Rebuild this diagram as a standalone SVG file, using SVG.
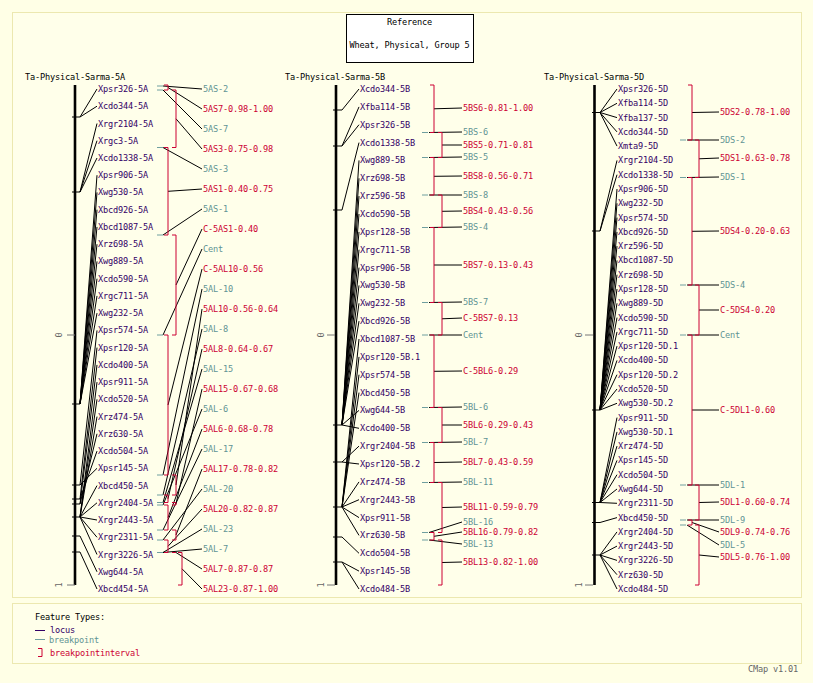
<svg xmlns="http://www.w3.org/2000/svg" width="813" height="683" viewBox="0 0 813 683">
<style>
text{font-family:"DejaVu Sans Mono","Liberation Mono",monospace;font-size:8.6px;letter-spacing:-0.18px}
.t{fill:#000}
.l{fill:#330066}
.b{fill:#5f9494}
.i{fill:#cc0033}
.s{fill:#666}
.c{stroke:#000;stroke-width:1;fill:none}
.k{stroke:#cc0033;stroke-width:1;fill:none}
.g{stroke:#6f9f9f;stroke-width:1}
.chr{stroke:#000;stroke-width:2.6}
.tk{stroke:#000;stroke-width:1}
.sc{stroke:#777;stroke-width:1}
</style>
<rect width="813" height="683" fill="#ffffe6"/>
<rect x="12.5" y="12.5" width="789" height="585" fill="#ffffea" stroke="#ece8b0"/>
<rect x="12.5" y="603.5" width="789" height="60" fill="#ffffea" stroke="#ece8b0"/>

<g id="title">
<rect x="346.5" y="14.5" width="127" height="48" fill="#fff" stroke="#000"/>
<text class="t" x="409.5" y="25" text-anchor="middle">Reference</text>
<text class="t" x="409.5" y="48" text-anchor="middle">Wheat, Physical, Group 5</text>
</g>

<g id="connectors">
<!-- 5A loci -->
<path class="c" d="M80 117L97 89M80 117L97 106.2M80 192L97 123.5M80 192L97 140.7M80 192L97 158M80 404L97 175.2M80 404L97 192.4M80 404L97 209.7M80 404L97 226.9M80 404L97 244.2M80 404L97 261.4M80 404L97 278.7M80 404L97 295.9M80 404L97 313.1M80 485L97 330.4M80 485L97 468.3M80 499L97 347.6M80 499L97 451.1M80 504L97 364.9M80 504L97 433.8M80 517L97 382.1M80 517L97 399.3M80 517L97 416.6M80 517L97 485.6M80 517L97 502.8M80 517L97 520M80 517L97 537.3M80 517L97 554.5M80 536L97 571.8M80 552L97 589"/>
<!-- 5A features -->
<path class="c" d="M163 86L202 89M168 87.5L202 109M163 90L202 129M176 118.8L202 149M163 147.5L202 169M168 191.3L202 189M163 235L202 209M176 285L202 229M163 335L202 249M168 405L202 269M163 475L202 289M176 485L202 309M163 495L202 329M168 498.8L202 349M163 502.5L202 369M176 503.8L202 389M163 505L202 409M168 517.5L202 429M163 530L202 449M176 535L202 469M163 540L202 489M168 546.3L202 509M163 552.5L202 529M163 552.5L202 549M176 552.5L202 569M182 568.8L202 589"/>
<!-- 5B loci -->
<path class="c" d="M342 110L359 89M342 146L359 106.9M342 146L359 124.7M342 210L359 142.6M342 425L359 160.4M342 425L359 178.3M342 425L359 196.1M342 425L359 214M342 425L359 231.9M342 425L359 249.7M342 425L359 267.6M342 425L359 285.4M342 425L359 303.3M342 425L359 321.1M342 425L359 410.4M342 425L359 428.3M342 507L359 339M342 507L359 356.9M342 507L359 374.7M342 507L359 392.6M342 507L359 481.9M342 507L359 499.7M342 507L359 517.6M342 507L359 535.4M342 462L359 446.1M342 462L359 464M342 537L359 553.3M342 562L359 571.1M342 562L359 589"/>
<!-- 5B features -->
<path class="c" d="M434 108.8L462 108M429 132.5L462 132M442 145L462 145M429 157.5L462 157M434 176.3L462 176M429 195L462 195M442 211.3L462 211M429 227.5L462 227M434 265L462 265M429 302.5L462 302M442 318.8L462 318M429 335L462 335M434 371.3L462 371M429 407.5L462 407M442 425L462 425M429 442.5L462 442M434 462.5L462 462M429 482.5L462 482M442 507.5L462 507M429 532.5L462 522M434 536.3L462 532M429 540L462 544M442 562.5L462 562"/>
<!-- 5D loci -->
<path class="c" d="M600 112.5L617 89M600 112.5L617 103.3M600 112.5L617 117.6M600 112.5L617 131.9M600 112.5L617 146.1M600 231L617 160.4M600 231L617 174.7M600 410L617 189M600 410L617 203.3M600 410L617 217.6M600 410L617 231.9M600 410L617 246.1M600 410L617 260.4M600 410L617 274.7M600 410L617 289M600 410L617 303.3M600 410L617 317.6M600 410L617 331.9M600 410L617 346.1M600 410L617 360.4M600 410L617 374.7M600 410L617 389M600 410L617 403.3M600 502.5L617 417.6M600 502.5L617 431.9M600 502.5L617 446.1M600 502.5L617 460.4M600 502.5L617 474.7M600 502.5L617 489M600 502.5L617 503.3M600 522.5L617 517.6M600 555L617 531.9M600 555L617 546.1M600 555L617 560.4M600 555L617 574.7M600 555L617 589"/>
<!-- 5D features -->
<path class="c" d="M692 112.5L719 112M687 140L719 140M699 158.8L719 158M687 177.5L719 177M692 231.3L719 231M687 285L719 285M699 310L719 310M687 335L719 335M692 410L719 410M687 485L719 485M699 502.5L719 502M687 520L719 520M692 522.5L719 532M687 525L719 545M699 555L719 557"/>
</g>

<g id="map-5A">
<text class="t" x="25" y="80">Ta-Physical-Sarma-5A</text>
<line class="chr" x1="75" y1="85" x2="75" y2="585"/>
<path class="sc" d="M67 335H75M67 585H75"/>
<text class="s" transform="translate(62,335) rotate(-90)" text-anchor="middle">0</text>
<text class="s" transform="translate(62,585) rotate(-90)" text-anchor="middle">1</text>
<path class="tk" d="M72 117H80M72 192H80M72 404H80M72 485H80M72 499H80M72 504H80M72 517H80M72 536H80M72 552H80"/>
<path class="g" d="M157 86H163M157 90H163M157 147.5H163M157 235H163M157 335H163M157 475H163M157 495H163M157 502.5H163M157 505H163M157 530H163M157 540H163M157 552.5H163"/>
<path class="k" d="M164 85H168V90H164M172 90H176V147.5H172M164 147.5H168V235H164M172 235H176V335H172M164 335H168V475H164M172 475H176V495H172M164 495H168V502.5H164M172 502.5H176V505H172M164 505H168V530H164M172 530H176V540H172M164 540H168V552.5H164M172 552.5H176M178 552.5H182V585H178"/>
<g id="loci-5A" class="l">
<text x="98" y="92">Xpsr326-5A</text><text x="98" y="109.2">Xcdo344-5A</text><text x="98" y="126.5">Xrgr2104-5A</text><text x="98" y="143.7">Xrgc3-5A</text><text x="98" y="161">Xcdo1338-5A</text><text x="98" y="178.2">Xpsr906-5A</text><text x="98" y="195.4">Xwg530-5A</text><text x="98" y="212.7">Xbcd926-5A</text><text x="98" y="229.9">Xbcd1087-5A</text><text x="98" y="247.2">Xrz698-5A</text><text x="98" y="264.4">Xwg889-5A</text><text x="98" y="281.7">Xcdo590-5A</text><text x="98" y="298.9">Xrgc711-5A</text><text x="98" y="316.1">Xwg232-5A</text><text x="98" y="333.4">Xpsr574-5A</text><text x="98" y="350.6">Xpsr120-5A</text><text x="98" y="367.9">Xcdo400-5A</text><text x="98" y="385.1">Xpsr911-5A</text><text x="98" y="402.3">Xcdo520-5A</text><text x="98" y="419.6">Xrz474-5A</text><text x="98" y="436.8">Xrz630-5A</text><text x="98" y="454.1">Xcdo504-5A</text><text x="98" y="471.3">Xpsr145-5A</text><text x="98" y="488.6">Xbcd450-5A</text><text x="98" y="505.8">Xrgr2404-5A</text><text x="98" y="523">Xrgr2443-5A</text><text x="98" y="540.3">Xrgr2311-5A</text><text x="98" y="557.5">Xrgr3226-5A</text><text x="98" y="574.8">Xwg644-5A</text><text x="98" y="592">Xbcd454-5A</text>
</g>
<g id="features-5A">
<text class="b" x="203" y="92">5AS-2</text><text class="i" x="203" y="112">5AS7-0.98-1.00</text><text class="b" x="203" y="132">5AS-7</text><text class="i" x="203" y="152">5AS3-0.75-0.98</text><text class="b" x="203" y="172">5AS-3</text><text class="i" x="203" y="192">5AS1-0.40-0.75</text><text class="b" x="203" y="212">5AS-1</text><text class="i" x="203" y="232">C-5AS1-0.40</text><text class="b" x="203" y="252">Cent</text><text class="i" x="203" y="272">C-5AL10-0.56</text><text class="b" x="203" y="292">5AL-10</text><text class="i" x="203" y="312">5AL10-0.56-0.64</text><text class="b" x="203" y="332">5AL-8</text><text class="i" x="203" y="352">5AL8-0.64-0.67</text><text class="b" x="203" y="372">5AL-15</text><text class="i" x="203" y="392">5AL15-0.67-0.68</text><text class="b" x="203" y="412">5AL-6</text><text class="i" x="203" y="432">5AL6-0.68-0.78</text><text class="b" x="203" y="452">5AL-17</text><text class="i" x="203" y="472">5AL17-0.78-0.82</text><text class="b" x="203" y="492">5AL-20</text><text class="i" x="203" y="512">5AL20-0.82-0.87</text><text class="b" x="203" y="532">5AL-23</text><text class="b" x="203" y="552">5AL-7</text><text class="i" x="203" y="572">5AL7-0.87-0.87</text><text class="i" x="203" y="592">5AL23-0.87-1.00</text>
</g>
</g>

<g id="map-5B">
<text class="t" x="285" y="80">Ta-Physical-Sarma-5B</text>
<line class="chr" x1="336" y1="85" x2="336" y2="585"/>
<path class="sc" d="M327 335H335M327 585H335"/>
<text class="s" transform="translate(324,335) rotate(-90)" text-anchor="middle">0</text>
<text class="s" transform="translate(324,585) rotate(-90)" text-anchor="middle">1</text>
<path class="tk" d="M333 110H342M333 146H342M333 210H342M333 425H342M333 462H342M333 507H342M333 537H342M333 562H342"/>
<path class="g" d="M422 132.5H428M422 157.5H428M422 195H428M422 227.5H428M422 302.5H428M422 335H428M422 407.5H428M422 442.5H428M422 482.5H428M422 532.5H428M422 540H428"/>
<path class="k" d="M430 85H434V132.5H430M438 132.5H442V157.5H438M430 157.5H434V195H430M438 195H442V227.5H438M430 227.5H434V302.5H430M438 302.5H442V335H438M430 335H434V407.5H430M438 407.5H442V442.5H438M430 442.5H434V482.5H430M438 482.5H442V532.5H438M430 532.5H434V540H430M438 540H442V585H438"/>
<g id="loci-5B" class="l">
<text x="360" y="92">Xcdo344-5B</text><text x="360" y="109.9">Xfba114-5B</text><text x="360" y="127.7">Xpsr326-5B</text><text x="360" y="145.6">Xcdo1338-5B</text><text x="360" y="163.4">Xwg889-5B</text><text x="360" y="181.3">Xrz698-5B</text><text x="360" y="199.1">Xrz596-5B</text><text x="360" y="217">Xcdo590-5B</text><text x="360" y="234.9">Xpsr128-5B</text><text x="360" y="252.7">Xrgc711-5B</text><text x="360" y="270.6">Xpsr906-5B</text><text x="360" y="288.4">Xwg530-5B</text><text x="360" y="306.3">Xwg232-5B</text><text x="360" y="324.1">Xbcd926-5B</text><text x="360" y="342">Xbcd1087-5B</text><text x="360" y="359.9">Xpsr120-5B.1</text><text x="360" y="377.7">Xpsr574-5B</text><text x="360" y="395.6">Xbcd450-5B</text><text x="360" y="413.4">Xwg644-5B</text><text x="360" y="431.3">Xcdo400-5B</text><text x="360" y="449.1">Xrgr2404-5B</text><text x="360" y="467">Xpsr120-5B.2</text><text x="360" y="484.9">Xrz474-5B</text><text x="360" y="502.7">Xrgr2443-5B</text><text x="360" y="520.6">Xpsr911-5B</text><text x="360" y="538.4">Xrz630-5B</text><text x="360" y="556.3">Xcdo504-5B</text><text x="360" y="574.1">Xpsr145-5B</text><text x="360" y="592">Xcdo484-5B</text>
</g>
<g id="features-5B">
<text class="i" x="463" y="111">5BS6-0.81-1.00</text><text class="b" x="463" y="135">5BS-6</text><text class="i" x="463" y="148">5BS5-0.71-0.81</text><text class="b" x="463" y="160">5BS-5</text><text class="i" x="463" y="179">5BS8-0.56-0.71</text><text class="b" x="463" y="198">5BS-8</text><text class="i" x="463" y="214">5BS4-0.43-0.56</text><text class="b" x="463" y="230">5BS-4</text><text class="i" x="463" y="268">5BS7-0.13-0.43</text><text class="b" x="463" y="305">5BS-7</text><text class="i" x="463" y="321">C-5BS7-0.13</text><text class="b" x="463" y="338">Cent</text><text class="i" x="463" y="374">C-5BL6-0.29</text><text class="b" x="463" y="410">5BL-6</text><text class="i" x="463" y="428">5BL6-0.29-0.43</text><text class="b" x="463" y="445">5BL-7</text><text class="i" x="463" y="465">5BL7-0.43-0.59</text><text class="b" x="463" y="485">5BL-11</text><text class="i" x="463" y="510">5BL11-0.59-0.79</text><text class="b" x="463" y="525">5BL-16</text><text class="i" x="463" y="535">5BL16-0.79-0.82</text><text class="b" x="463" y="547">5BL-13</text><text class="i" x="463" y="565">5BL13-0.82-1.00</text>
</g>
</g>

<g id="map-5D">
<text class="t" x="544" y="80">Ta-Physical-Sarma-5D</text>
<line class="chr" x1="594.5" y1="85" x2="594.5" y2="585"/>
<path class="sc" d="M585 335H593M585 585H593"/>
<text class="s" transform="translate(582,335) rotate(-90)" text-anchor="middle">0</text>
<text class="s" transform="translate(582,585) rotate(-90)" text-anchor="middle">1</text>
<path class="tk" d="M592 112.5H600M592 231H600M592 410H600M592 502.5H600M592 522.5H600M592 555H600"/>
<path class="g" d="M680 140H686M680 177.5H686M680 285H686M680 335H686M680 485H686M680 520H686M680 525H686"/>
<path class="k" d="M688 85H692V140H688M695 140H699V177.5H695M688 177.5H692V285H688M695 285H699V335H695M688 335H692V485H688M695 485H699V520H695M688 520H692V525H688M695 525H699V585H695"/>
<g id="loci-5D" class="l">
<text x="618" y="92">Xpsr326-5D</text><text x="618" y="106.3">Xfba114-5D</text><text x="618" y="120.6">Xfba137-5D</text><text x="618" y="134.9">Xcdo344-5D</text><text x="618" y="149.1">Xmta9-5D</text><text x="618" y="163.4">Xrgr2104-5D</text><text x="618" y="177.7">Xcdo1338-5D</text><text x="618" y="192">Xpsr906-5D</text><text x="618" y="206.3">Xwg232-5D</text><text x="618" y="220.6">Xpsr574-5D</text><text x="618" y="234.9">Xbcd926-5D</text><text x="618" y="249.1">Xrz596-5D</text><text x="618" y="263.4">Xbcd1087-5D</text><text x="618" y="277.7">Xrz698-5D</text><text x="618" y="292">Xpsr128-5D</text><text x="618" y="306.3">Xwg889-5D</text><text x="618" y="320.6">Xcdo590-5D</text><text x="618" y="334.9">Xrgc711-5D</text><text x="618" y="349.1">Xpsr120-5D.1</text><text x="618" y="363.4">Xcdo400-5D</text><text x="618" y="377.7">Xpsr120-5D.2</text><text x="618" y="392">Xcdo520-5D</text><text x="618" y="406.3">Xwg530-5D.2</text><text x="618" y="420.6">Xpsr911-5D</text><text x="618" y="434.9">Xwg530-5D.1</text><text x="618" y="449.1">Xrz474-5D</text><text x="618" y="463.4">Xpsr145-5D</text><text x="618" y="477.7">Xcdo504-5D</text><text x="618" y="492">Xwg644-5D</text><text x="618" y="506.3">Xrgr2311-5D</text><text x="618" y="520.6">Xbcd450-5D</text><text x="618" y="534.9">Xrgr2404-5D</text><text x="618" y="549.1">Xrgr2443-5D</text><text x="618" y="563.4">Xrgr3226-5D</text><text x="618" y="577.7">Xrz630-5D</text><text x="618" y="592">Xcdo484-5D</text>
</g>
<g id="features-5D">
<text class="i" x="720" y="115">5DS2-0.78-1.00</text><text class="b" x="720" y="143">5DS-2</text><text class="i" x="720" y="161">5DS1-0.63-0.78</text><text class="b" x="720" y="180">5DS-1</text><text class="i" x="720" y="234">5DS4-0.20-0.63</text><text class="b" x="720" y="288">5DS-4</text><text class="i" x="720" y="313">C-5DS4-0.20</text><text class="b" x="720" y="338">Cent</text><text class="i" x="720" y="413">C-5DL1-0.60</text><text class="b" x="720" y="488">5DL-1</text><text class="i" x="720" y="505">5DL1-0.60-0.74</text><text class="b" x="720" y="523">5DL-9</text><text class="i" x="720" y="535">5DL9-0.74-0.76</text><text class="b" x="720" y="548">5DL-5</text><text class="i" x="720" y="560">5DL5-0.76-1.00</text>
</g>
</g>

<g id="legend">
<text class="t" x="35" y="620">Feature Types:</text>
<line x1="35" y1="630.5" x2="45" y2="630.5" stroke="#330066"/>
<text class="l" x="50" y="633">locus</text>
<line x1="35" y1="639.5" x2="45" y2="639.5" stroke="#6f9f9f"/>
<text class="b" x="49" y="643">breakpoint</text>
<path class="k" d="M38 648.5H42V656.5H38"/>
<text class="i" x="50" y="655.5">breakpointinterval</text>
</g>
<text class="s" x="748" y="672">CMap v1.01</text>
</svg>
